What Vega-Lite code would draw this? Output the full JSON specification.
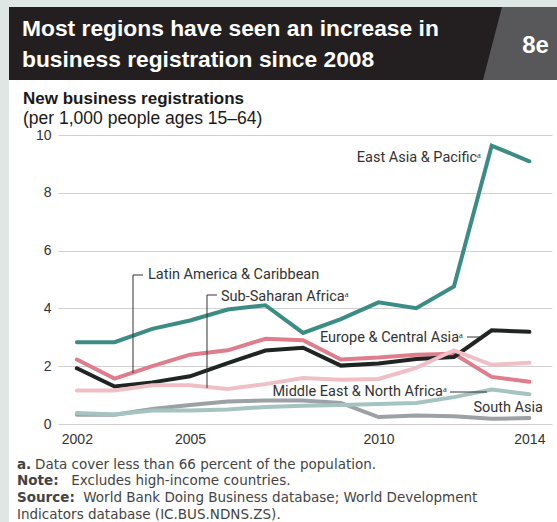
{
  "$schema": "https://vega.github.io/schema/vega-lite/v6.json",
  "width": 494,
  "height": 289,
  "autosize": {"type": "none"},
  "padding": {"left": 58, "top": 135, "right": 5, "bottom": 98},
  "background": "#ffffff",
  "config": {"view": {"stroke": null}},
  "datasets": {
    "series": [
      {"region": "East Asia & Pacific", "year": 2002, "value": 2.83},
      {"region": "East Asia & Pacific", "year": 2003, "value": 2.83},
      {"region": "East Asia & Pacific", "year": 2004, "value": 3.29},
      {"region": "East Asia & Pacific", "year": 2005, "value": 3.58},
      {"region": "East Asia & Pacific", "year": 2006, "value": 3.96},
      {"region": "East Asia & Pacific", "year": 2007, "value": 4.11},
      {"region": "East Asia & Pacific", "year": 2008, "value": 3.15},
      {"region": "East Asia & Pacific", "year": 2009, "value": 3.63},
      {"region": "East Asia & Pacific", "year": 2010, "value": 4.21},
      {"region": "East Asia & Pacific", "year": 2011, "value": 4.01},
      {"region": "East Asia & Pacific", "year": 2012, "value": 4.76},
      {"region": "East Asia & Pacific", "year": 2013, "value": 9.63},
      {"region": "East Asia & Pacific", "year": 2014, "value": 9.09},
      {"region": "Latin America & Caribbean", "year": 2002, "value": 2.23},
      {"region": "Latin America & Caribbean", "year": 2003, "value": 1.57},
      {"region": "Latin America & Caribbean", "year": 2004, "value": 2.0},
      {"region": "Latin America & Caribbean", "year": 2005, "value": 2.4},
      {"region": "Latin America & Caribbean", "year": 2006, "value": 2.55},
      {"region": "Latin America & Caribbean", "year": 2007, "value": 2.95},
      {"region": "Latin America & Caribbean", "year": 2008, "value": 2.9},
      {"region": "Latin America & Caribbean", "year": 2009, "value": 2.23},
      {"region": "Latin America & Caribbean", "year": 2010, "value": 2.3},
      {"region": "Latin America & Caribbean", "year": 2011, "value": 2.4},
      {"region": "Latin America & Caribbean", "year": 2012, "value": 2.43},
      {"region": "Latin America & Caribbean", "year": 2013, "value": 1.63},
      {"region": "Latin America & Caribbean", "year": 2014, "value": 1.46},
      {"region": "Europe & Central Asia", "year": 2002, "value": 1.93},
      {"region": "Europe & Central Asia", "year": 2003, "value": 1.3},
      {"region": "Europe & Central Asia", "year": 2004, "value": 1.44},
      {"region": "Europe & Central Asia", "year": 2005, "value": 1.65},
      {"region": "Europe & Central Asia", "year": 2006, "value": 2.11},
      {"region": "Europe & Central Asia", "year": 2007, "value": 2.54},
      {"region": "Europe & Central Asia", "year": 2008, "value": 2.64},
      {"region": "Europe & Central Asia", "year": 2009, "value": 2.02},
      {"region": "Europe & Central Asia", "year": 2010, "value": 2.09},
      {"region": "Europe & Central Asia", "year": 2011, "value": 2.25},
      {"region": "Europe & Central Asia", "year": 2012, "value": 2.32},
      {"region": "Europe & Central Asia", "year": 2013, "value": 3.24},
      {"region": "Europe & Central Asia", "year": 2014, "value": 3.19},
      {"region": "Sub-Saharan Africa", "year": 2002, "value": 1.16},
      {"region": "Sub-Saharan Africa", "year": 2003, "value": 1.16},
      {"region": "Sub-Saharan Africa", "year": 2004, "value": 1.34},
      {"region": "Sub-Saharan Africa", "year": 2005, "value": 1.34},
      {"region": "Sub-Saharan Africa", "year": 2006, "value": 1.21},
      {"region": "Sub-Saharan Africa", "year": 2007, "value": 1.38},
      {"region": "Sub-Saharan Africa", "year": 2008, "value": 1.59},
      {"region": "Sub-Saharan Africa", "year": 2009, "value": 1.53},
      {"region": "Sub-Saharan Africa", "year": 2010, "value": 1.56},
      {"region": "Sub-Saharan Africa", "year": 2011, "value": 1.94},
      {"region": "Sub-Saharan Africa", "year": 2012, "value": 2.55},
      {"region": "Sub-Saharan Africa", "year": 2013, "value": 2.05},
      {"region": "Sub-Saharan Africa", "year": 2014, "value": 2.12},
      {"region": "South Asia", "year": 2002, "value": 0.32},
      {"region": "South Asia", "year": 2003, "value": 0.32},
      {"region": "South Asia", "year": 2004, "value": 0.52},
      {"region": "South Asia", "year": 2005, "value": 0.66},
      {"region": "South Asia", "year": 2006, "value": 0.78},
      {"region": "South Asia", "year": 2007, "value": 0.81},
      {"region": "South Asia", "year": 2008, "value": 0.81},
      {"region": "South Asia", "year": 2009, "value": 0.73},
      {"region": "South Asia", "year": 2010, "value": 0.24},
      {"region": "South Asia", "year": 2011, "value": 0.29},
      {"region": "South Asia", "year": 2012, "value": 0.27},
      {"region": "South Asia", "year": 2013, "value": 0.18},
      {"region": "South Asia", "year": 2014, "value": 0.21},
      {"region": "Middle East & North Africa", "year": 2002, "value": 0.38},
      {"region": "Middle East & North Africa", "year": 2003, "value": 0.33},
      {"region": "Middle East & North Africa", "year": 2004, "value": 0.47},
      {"region": "Middle East & North Africa", "year": 2005, "value": 0.47},
      {"region": "Middle East & North Africa", "year": 2006, "value": 0.5},
      {"region": "Middle East & North Africa", "year": 2007, "value": 0.59},
      {"region": "Middle East & North Africa", "year": 2008, "value": 0.63},
      {"region": "Middle East & North Africa", "year": 2009, "value": 0.66},
      {"region": "Middle East & North Africa", "year": 2010, "value": 0.69},
      {"region": "Middle East & North Africa", "year": 2011, "value": 0.73},
      {"region": "Middle East & North Africa", "year": 2012, "value": 0.93},
      {"region": "Middle East & North Africa", "year": 2013, "value": 1.19},
      {"region": "Middle East & North Africa", "year": 2014, "value": 1.03}
    ]
  },
  "layer": [
    {
      "data": {"name": "series"},
      "mark": {"type": "line", "strokeWidth": 4, "strokeCap": "round"},
      "encoding": {
        "x": {
          "field": "year", "type": "quantitative",
          "scale": {"domain": [2001.5, 2014.6], "nice": false, "zero": false},
          "axis": {"values": [2002, 2005, 2010, 2014], "format": "d", "title": null, "grid": false, "domain": false, "ticks": false, "labelPadding": 8, "labelFontSize": 14, "labelFont": "Liberation Sans", "labelColor": "#333333"}
        },
        "y": {
          "field": "value", "type": "quantitative",
          "scale": {"domain": [0, 10], "nice": false},
          "axis": {"values": [0, 2, 4, 6, 8, 10], "title": null, "grid": true, "gridColor": "#d0d0d0", "gridWidth": 1, "domain": false, "ticks": false, "labelPadding": 7, "labelFontSize": 14, "labelFont": "Liberation Sans", "labelColor": "#333333"}
        },
        "color": {
          "field": "region", "type": "nominal", "legend": null,
          "scale": {
            "domain": ["South Asia", "Middle East & North Africa", "Sub-Saharan Africa", "Latin America & Caribbean", "Europe & Central Asia", "East Asia & Pacific"],
            "range": ["#9ca1a5", "#a5c4c1", "#f0bfc6", "#e07d8c", "#1f2523", "#3a8c84"]
          }
        },
        "order": {"field": "year", "type": "quantitative"}
      }
    },
    {
      "data": {"values": [{}]},
      "mark": {"type": "rect", "color": "#dfe7e5"},
      "encoding": {
        "x": {"datum": 1999, "type": "quantitative", "title": null},
        "x2": {"datum": 2000.2006},
        "y": {"datum": -5, "type": "quantitative", "title": null},
        "y2": {"datum": 20}
      }
    },
    {
      "data": {"values": [{}]},
      "mark": {"type": "rect", "color": "#dfe7e5"},
      "encoding": {
        "x": {"datum": 1999, "type": "quantitative", "title": null},
        "x2": {"datum": 2020},
        "y": {"datum": 14.429, "type": "quantitative", "title": null},
        "y2": {"datum": 20}
      }
    },
    {
      "data": {"values": [{}]},
      "mark": {"type": "rect", "color": "#231f20"},
      "encoding": {
        "x": {"datum": 2000.2006, "type": "quantitative", "title": null},
        "x2": {"datum": 2020},
        "y": {"datum": 11.903, "type": "quantitative", "title": null},
        "y2": {"datum": 14.429}
      }
    },
    {
      "data": {"values": [{}]},
      "mark": {"type": "point", "filled": true, "opacity": 1, "color": "#58585a", "strokeWidth": 0, "size": 5476, "shape": "M-0.486,-0.986L1.4,-0.986L1.4,0.986L-1,0.986Z"},
      "encoding": {
        "x": {"datum": 2013.751, "type": "quantitative", "title": null},
        "y": {"datum": 13.166, "type": "quantitative", "title": null}
      }
    },
    {
      "data": {"values": [{}]},
      "mark": {"type": "text", "text": "Most regions have seen an increase in", "align": "left", "baseline": "alphabetic", "font": "Liberation Sans", "fontWeight": "bold", "fontSize": 22.8, "color": "#ffffff"},
      "encoding": {
        "x": {"datum": 2000.545, "type": "quantitative", "title": null},
        "y": {"datum": 13.426, "type": "quantitative", "title": null}
      }
    },
    {
      "data": {"values": [{}]},
      "mark": {"type": "text", "text": "business registration since 2008", "align": "left", "baseline": "alphabetic", "font": "Liberation Sans", "fontWeight": "bold", "fontSize": 22.8, "color": "#ffffff"},
      "encoding": {
        "x": {"datum": 2000.545, "type": "quantitative", "title": null},
        "y": {"datum": 12.353, "type": "quantitative", "title": null}
      }
    },
    {
      "data": {"values": [{}]},
      "mark": {"type": "text", "text": "8e", "align": "center", "baseline": "alphabetic", "font": "Liberation Sans", "fontWeight": "bold", "fontSize": 24, "color": "#ffffff"},
      "encoding": {
        "x": {"datum": 2014.162, "type": "quantitative", "title": null},
        "y": {"datum": 12.837, "type": "quantitative", "title": null}
      }
    },
    {
      "data": {"values": [{}]},
      "mark": {"type": "text", "text": "New business registrations", "align": "left", "baseline": "alphabetic", "font": "Liberation Sans", "fontWeight": "bold", "fontSize": 17, "color": "#1a1a1a"},
      "encoding": {
        "x": {"datum": 2000.572, "type": "quantitative", "title": null},
        "y": {"datum": 11.073, "type": "quantitative", "title": null}
      }
    },
    {
      "data": {"values": [{}]},
      "mark": {"type": "text", "text": "(per 1,000 people ages 15–64)", "align": "left", "baseline": "alphabetic", "font": "Liberation Sans", "fontSize": 17.5, "color": "#1a1a1a"},
      "encoding": {
        "x": {"datum": 2000.572, "type": "quantitative", "title": null},
        "y": {"datum": 10.381, "type": "quantitative", "title": null}
      }
    },
    {
      "data": {"values": [{}]},
      "mark": {"type": "text", "text": "East Asia & Pacificᵃ", "align": "right", "baseline": "alphabetic", "font": "Roboto", "fontSize": 14.5, "color": "#333333"},
      "encoding": {
        "x": {"datum": 2012.717, "type": "quantitative", "title": null},
        "y": {"datum": 9.066, "type": "quantitative", "title": null}
      }
    },
    {
      "data": {"values": [{}]},
      "mark": {"type": "text", "text": "Latin America & Caribbean", "align": "left", "baseline": "alphabetic", "font": "Roboto", "fontSize": 14.5, "color": "#333333"},
      "encoding": {
        "x": {"datum": 2003.887, "type": "quantitative", "title": null},
        "y": {"datum": 5.017, "type": "quantitative", "title": null}
      }
    },
    {
      "data": {"values": [{}]},
      "mark": {"type": "text", "text": "Sub-Saharan Africaᵃ", "align": "left", "baseline": "alphabetic", "font": "Roboto", "fontSize": 14.5, "color": "#333333"},
      "encoding": {
        "x": {"datum": 2005.822, "type": "quantitative", "title": null},
        "y": {"datum": 4.256, "type": "quantitative", "title": null}
      }
    },
    {
      "data": {"values": [{}]},
      "mark": {"type": "text", "text": "Europe & Central Asiaᵃ", "align": "right", "baseline": "alphabetic", "font": "Roboto", "fontSize": 14.5, "color": "#333333"},
      "encoding": {
        "x": {"datum": 2012.24, "type": "quantitative", "title": null},
        "y": {"datum": 2.837, "type": "quantitative", "title": null}
      }
    },
    {
      "data": {"values": [{}]},
      "mark": {"type": "text", "text": "Middle East & North Africaᵃ", "align": "right", "baseline": "alphabetic", "font": "Roboto", "fontSize": 14.5, "color": "#333333"},
      "encoding": {
        "x": {"datum": 2011.815, "type": "quantitative", "title": null},
        "y": {"datum": 0.969, "type": "quantitative", "title": null}
      }
    },
    {
      "data": {"values": [{}]},
      "mark": {"type": "text", "text": "South Asia", "align": "right", "baseline": "alphabetic", "font": "Roboto", "fontSize": 14.5, "color": "#333333"},
      "encoding": {
        "x": {"datum": 2014.361, "type": "quantitative", "title": null},
        "y": {"datum": 0.415, "type": "quantitative", "title": null}
      }
    },
    {
      "data": {"values": [{}]},
      "mark": {"type": "rule", "color": "#333333", "strokeWidth": 1},
      "encoding": {
        "x": {"datum": 2003.489, "type": "quantitative", "title": null},
        "x2": {"datum": 2003.754},
        "y": {"datum": 5.156, "type": "quantitative", "title": null},
        "y2": {"datum": 5.156}
      }
    },
    {
      "data": {"values": [{}]},
      "mark": {"type": "rule", "color": "#333333", "strokeWidth": 1},
      "encoding": {
        "x": {"datum": 2003.489, "type": "quantitative", "title": null},
        "y": {"datum": 5.156, "type": "quantitative", "title": null},
        "y2": {"datum": 1.765}
      }
    },
    {
      "data": {"values": [{}]},
      "mark": {"type": "rule", "color": "#333333", "strokeWidth": 1},
      "encoding": {
        "x": {"datum": 2005.451, "type": "quantitative", "title": null},
        "x2": {"datum": 2005.716},
        "y": {"datum": 4.464, "type": "quantitative", "title": null},
        "y2": {"datum": 4.464}
      }
    },
    {
      "data": {"values": [{}]},
      "mark": {"type": "rule", "color": "#333333", "strokeWidth": 1},
      "encoding": {
        "x": {"datum": 2005.451, "type": "quantitative", "title": null},
        "y": {"datum": 4.464, "type": "quantitative", "title": null},
        "y2": {"datum": 1.246}
      }
    },
    {
      "data": {"values": [{}]},
      "mark": {"type": "rule", "color": "#333333", "strokeWidth": 1},
      "encoding": {
        "x": {"datum": 2012.346, "type": "quantitative", "title": null},
        "x2": {"datum": 2012.77},
        "y": {"datum": 3.01, "type": "quantitative", "title": null},
        "y2": {"datum": 3.01}
      }
    },
    {
      "data": {"values": [{}]},
      "mark": {"type": "rule", "color": "#333333", "strokeWidth": 1},
      "encoding": {
        "x": {"datum": 2011.895, "type": "quantitative", "title": null},
        "x2": {"datum": 2012.876},
        "y": {"datum": 1.107, "type": "quantitative", "title": null},
        "y2": {"datum": 1.107}
      }
    },
    {
      "data": {"values": [{}]},
      "mark": {"type": "text", "text": "a.", "align": "left", "baseline": "alphabetic", "font": "DejaVu Sans", "fontWeight": "bold", "fontSize": 13.5, "color": "#444444"},
      "encoding": {
        "x": {"datum": 2000.413, "type": "quantitative", "title": null},
        "y": {"datum": -1.557, "type": "quantitative", "title": null}
      }
    },
    {
      "data": {"values": [{}]},
      "mark": {"type": "text", "text": "Data cover less than 66 percent of the population.", "align": "left", "baseline": "alphabetic", "font": "DejaVu Sans", "fontSize": 13.5, "color": "#444444"},
      "encoding": {
        "x": {"datum": 2000.89, "type": "quantitative", "title": null},
        "y": {"datum": -1.557, "type": "quantitative", "title": null}
      }
    },
    {
      "data": {"values": [{}]},
      "mark": {"type": "text", "text": "Note:", "align": "left", "baseline": "alphabetic", "font": "DejaVu Sans", "fontWeight": "bold", "fontSize": 13.5, "color": "#444444"},
      "encoding": {
        "x": {"datum": 2000.413, "type": "quantitative", "title": null},
        "y": {"datum": -2.128, "type": "quantitative", "title": null}
      }
    },
    {
      "data": {"values": [{}]},
      "mark": {"type": "text", "text": "Excludes high-income countries.", "align": "left", "baseline": "alphabetic", "font": "DejaVu Sans", "fontSize": 13.5, "color": "#444444"},
      "encoding": {
        "x": {"datum": 2001.85, "type": "quantitative", "title": null},
        "y": {"datum": -2.128, "type": "quantitative", "title": null}
      }
    },
    {
      "data": {"values": [{}]},
      "mark": {"type": "text", "text": "Source:", "align": "left", "baseline": "alphabetic", "font": "DejaVu Sans", "fontWeight": "bold", "fontSize": 13.5, "color": "#444444"},
      "encoding": {
        "x": {"datum": 2000.413, "type": "quantitative", "title": null},
        "y": {"datum": -2.699, "type": "quantitative", "title": null}
      }
    },
    {
      "data": {"values": [{}]},
      "mark": {"type": "text", "text": "World Bank Doing Business database; World Development", "align": "left", "baseline": "alphabetic", "font": "DejaVu Sans", "fontSize": 13.5, "color": "#444444"},
      "encoding": {
        "x": {"datum": 2002.17, "type": "quantitative", "title": null},
        "y": {"datum": -2.699, "type": "quantitative", "title": null}
      }
    },
    {
      "data": {"values": [{}]},
      "mark": {"type": "text", "text": "Indicators database (IC.BUS.NDNS.ZS).", "align": "left", "baseline": "alphabetic", "font": "DejaVu Sans", "fontSize": 13.5, "color": "#444444"},
      "encoding": {
        "x": {"datum": 2000.413, "type": "quantitative", "title": null},
        "y": {"datum": -3.27, "type": "quantitative", "title": null}
      }
    }
  ]
}
